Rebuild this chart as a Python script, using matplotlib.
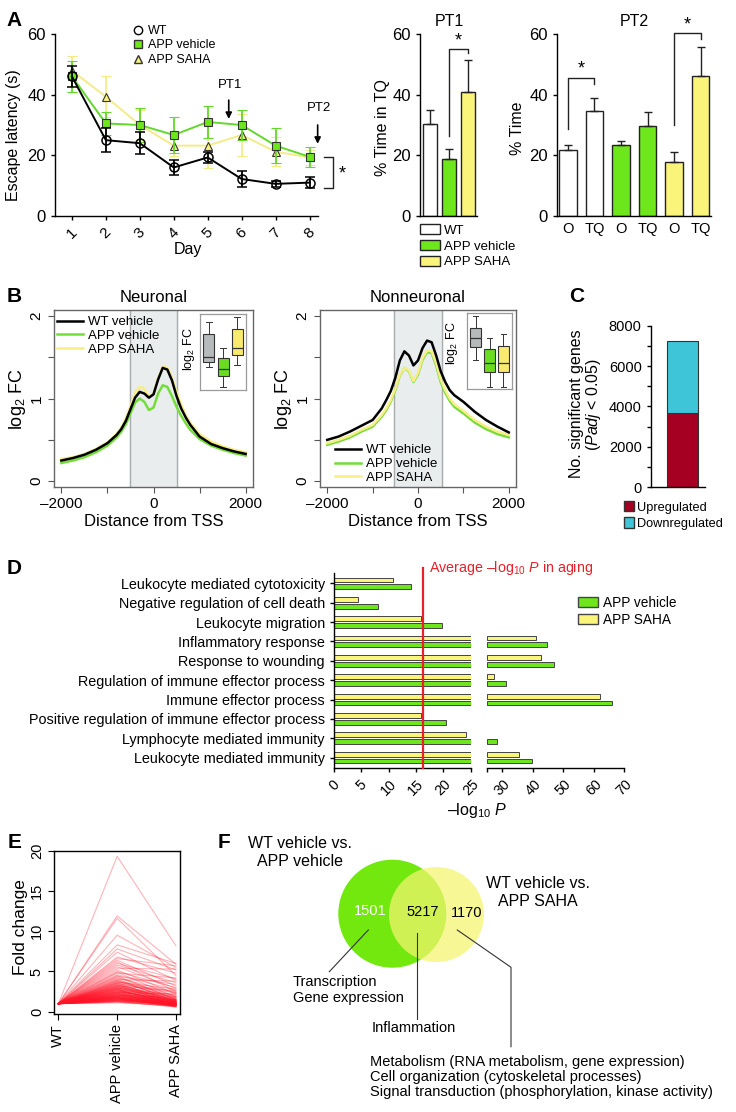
"""Multi-panel figure: water maze (A), promoter profiles (B), DE genes (C),
GO enrichment (D), fold changes (E) and gene-set overlap (F)."""
import matplotlib
matplotlib.use("Agg")
import matplotlib.pyplot as plt
import numpy as np
from matplotlib.lines import Line2D
from matplotlib.patches import Circle, Patch

plt.rcParams["font.family"] = ["Liberation Sans", "DejaVu Sans"]
plt.rcParams["mathtext.fontset"] = "custom"
plt.rcParams["mathtext.rm"] = "Liberation Sans"
plt.rcParams["mathtext.it"] = "Liberation Sans:italic"
plt.rcParams["axes.linewidth"] = 1.0

# ---------------- data ----------------
days = [1, 2, 3, 4, 5, 6, 7, 8]
wt_latency = [46.0, 25.0, 24.0, 16.0, 19.3, 12.2, 10.6, 11.0]
wt_err = [3.5, 4.0, 3.6, 2.6, 1.8, 2.5, 1.0, 1.8]
veh_latency = [46.0, 30.5, 30.0, 26.7, 31.0, 30.0, 23.2, 19.5]
veh_err = [5.0, 3.8, 5.5, 6.0, 5.2, 4.8, 5.8, 3.3]
saha_latency = [47.9, 39.3, 30.0, 23.2, 23.2, 26.7, 21.2, 19.3]
saha_err = [5.0, 6.8, 5.0, 3.5, 7.5, 6.8, 4.7, 2.5]

groups = ["WT", "APP vehicle", "APP SAHA"]
pt1_mean = [30.3, 18.8, 40.8]
pt1_err = [4.7, 3.2, 10.6]
pt2_labels = ["O", "TQ", "O", "TQ", "O", "TQ"]
pt2_mean = [21.8, 34.6, 23.4, 29.8, 17.9, 46.2]
pt2_err = [1.6, 4.4, 1.4, 4.4, 3.3, 9.6]

tss_pos = [-2000, -1750, -1500, -1250, -1000, -800, -700, -600, -500, -400, -300,
           -200, -100, 0, 100, 200, 300, 400, 500, 600, 700, 800, 1000, 1250,
           1500, 1750, 2000]
neu_wt = [0.25, 0.28, 0.32, 0.38, 0.46, 0.56, 0.63, 0.73, 0.87, 1.01, 1.08,
          1.06, 1.01, 1.05, 1.23, 1.37, 1.35, 1.22, 1.03, 0.88, 0.77, 0.68,
          0.54, 0.45, 0.40, 0.36, 0.33]
neu_veh = [0.22, 0.25, 0.29, 0.35, 0.43, 0.53, 0.60, 0.69, 0.82, 0.95, 1.00,
           0.96, 0.86, 0.89, 1.06, 1.16, 1.14, 1.03, 0.90, 0.79, 0.70, 0.62,
           0.51, 0.43, 0.38, 0.34, 0.31]
neu_saha = [0.27, 0.29, 0.33, 0.39, 0.47, 0.57, 0.65, 0.76, 0.91, 1.07, 1.14,
            1.12, 1.02, 1.06, 1.25, 1.39, 1.37, 1.25, 1.08, 0.93, 0.80, 0.70,
            0.57, 0.48, 0.42, 0.38, 0.35]
non_wt = [0.50, 0.54, 0.60, 0.67, 0.74, 0.88, 0.98, 1.09, 1.25, 1.46, 1.57,
          1.52, 1.40, 1.46, 1.61, 1.70, 1.68, 1.52, 1.33, 1.20, 1.10, 1.04,
          0.96, 0.84, 0.74, 0.66, 0.59]
non_veh = [0.44, 0.48, 0.53, 0.60, 0.66, 0.78, 0.86, 0.96, 1.10, 1.28, 1.37,
           1.33, 1.20, 1.29, 1.47, 1.56, 1.55, 1.40, 1.20, 1.07, 0.97, 0.90,
           0.82, 0.71, 0.63, 0.57, 0.53]
non_saha = [0.46, 0.50, 0.55, 0.62, 0.68, 0.80, 0.88, 0.98, 1.12, 1.29, 1.37,
            1.34, 1.21, 1.31, 1.49, 1.58, 1.57, 1.43, 1.23, 1.10, 1.00, 0.93,
            0.85, 0.74, 0.66, 0.60, 0.56]
# inset boxplots: (whislo, q1, med, q3, whishi)
neu_box = [(0.61, 0.74, 0.87, 1.47, 1.79),
           (0.08, 0.37, 0.55, 0.84, 1.10),
           (0.66, 0.92, 1.10, 1.60, 1.92)]
non_box = [(0.76, 1.11, 1.34, 1.61, 1.92),
           (0.06, 0.45, 0.68, 1.05, 1.35),
           (0.06, 0.45, 0.68, 1.13, 1.45)]

n_up = 3700
n_down = 3550

go_terms = ["Leukocyte mediated cytotoxicity",
            "Negative regulation of cell death",
            "Leukocyte migration",
            "Inflammatory response",
            "Response to wounding",
            "Regulation of immune effector process",
            "Immune effector process",
            "Positive regulation of immune effector process",
            "Lymphocyte mediated immunity",
            "Leukocyte mediated immunity"]
veh_logp = np.array([14.1, 8.0, 19.8, 44.8, 47.0, 31.3, 66.1, 20.5, 28.3, 39.8])
saha_logp = np.array([10.7, 4.3, 16.0, 41.1, 42.8, 27.2, 62.0, 16.0, 24.1, 35.4])
aging_avg = 16.2

fc_groups = ["WT", "APP vehicle", "APP SAHA"]
fc_vehicle = [19.3, 11.9, 11.6, 9.5, 8.3, 7.8, 7.4, 6.8, 6.6, 6.4, 6.2, 6.0, 5.8,
              5.6, 5.4, 5.2, 5.0, 4.9, 4.8, 4.6, 4.5, 4.4, 4.2, 4.1, 4.0, 3.9,
              3.8, 3.7, 3.6, 3.5, 3.4, 3.3, 3.2, 3.1, 3.0, 2.9, 2.8, 2.7, 2.6,
              2.5, 2.5, 2.4, 2.3, 2.2, 2.2, 2.1, 2.0, 2.0, 1.9, 1.9, 1.8, 1.8,
              1.7, 1.7, 1.6, 1.6, 1.5, 1.5, 1.4, 1.4, 1.3, 1.3, 1.2, 1.2, 1.1,
              3.6, 3.2, 2.9, 2.7, 2.4, 2.3, 2.1, 1.9, 1.7, 1.6, 1.5, 1.4, 1.3,
              4.3, 3.9, 3.4, 3.0, 2.8, 2.6, 2.4, 2.2, 2.0, 1.8, 1.7, 1.5, 1.4,
              3.7, 3.3, 3.1, 2.9, 2.7, 2.5, 2.3, 2.1, 2.0, 1.9, 1.8, 1.6, 1.5,
              3.5, 3.2, 3.0, 2.8, 2.6, 2.4, 2.2, 2.1, 1.9, 1.8, 1.7, 1.6, 1.3]
fc_saha = [8.2, 5.9, 4.5, 5.5, 6.0, 5.2, 3.9, 4.8, 5.7, 3.2, 2.5, 4.1, 3.6,
           2.9, 5.3, 2.2, 3.0, 1.8, 4.2, 2.7, 1.5, 3.4, 2.4, 1.2, 3.8, 2.0,
           1.6, 2.8, 1.1, 2.3, 1.4, 0.9, 2.6, 1.7, 1.3, 2.1, 0.8, 1.9, 1.2,
           1.5, 0.9, 2.2, 1.1, 1.6, 0.7, 1.3, 1.0, 1.8, 0.8, 1.4, 1.1, 0.6,
           1.5, 0.9, 1.2, 0.7, 1.0, 1.3, 0.8, 1.1, 0.9, 1.2, 0.7, 1.0, 0.8,
           1.9, 1.5, 1.3, 1.0, 1.2, 0.9, 1.1, 0.8, 1.0, 0.7, 0.9, 0.8, 0.6,
           1.6, 1.4, 1.2, 1.1, 0.9, 1.3, 1.0, 0.8, 1.1, 0.9, 0.7, 1.0, 0.8,
           2.4, 1.8, 1.5, 1.2, 1.0, 1.4, 1.1, 0.9, 1.2, 0.8, 1.0, 0.7, 0.9,
           1.3, 1.1, 1.4, 0.9, 1.2, 1.0, 0.8, 1.1, 0.9, 0.7, 1.0, 0.8, 0.6]

venn_counts = [1501, 5217, 1170]

# ---------------- styling ----------------
W, H = 736, 1112
GREEN = "#6ee61c"
GREEN_LINE = "#62d82c"
YELLOW = "#fbf47a"
YELLOW_LINE = "#f3ec86"
EDGE = "#222222"
RED = "#e8202a"

fig = plt.figure(figsize=(W / 100, H / 100), dpi=100)


def px_axes(left, top, right, bottom):
    return fig.add_axes([left / W, 1 - bottom / H, (right - left) / W, (bottom - top) / H])


def ftext(x, y, s, **kw):
    return fig.text(x / W, 1 - y / H, s, **kw)


def open_axes(ax, size=12):
    ax.spines["top"].set_visible(False)
    ax.spines["right"].set_visible(False)
    ax.tick_params(direction="out", length=3, width=1, labelsize=size)


def bracket(ax, x0, x1, y0, ytop, y1):
    ax.plot([x0, x0, x1, x1], [y0, ytop, ytop, y1], color=EDGE, lw=1, clip_on=False)


for letter, (lx, ly) in zip("ABCDEF", [(14, 20), (14, 297), (577, 297),
                                       (14, 568), (15, 843), (224, 843)]):
    ftext(lx, ly, letter, fontsize=15, fontweight="bold", ha="center", va="center")

# ---------------- A: escape latency ----------------
ax = px_axes(55, 34, 318, 216)
open_axes(ax)
ax.errorbar(days, saha_latency, yerr=saha_err, color=YELLOW_LINE, lw=1.4, marker="^",
            ms=6, mfc=YELLOW, mec="#333333", mew=0.8, capsize=3.5, elinewidth=1.3, zorder=2)
ax.errorbar(days, veh_latency, yerr=veh_err, color=GREEN_LINE, lw=1.4, marker="s",
            ms=6, mfc=GREEN, mec="#333333", mew=0.8, capsize=3.5, elinewidth=1.3, zorder=3)
ax.errorbar(days, wt_latency, yerr=wt_err, color="black", lw=1.4, marker="o",
            ms=6.5, mfc="none", mec="black", mew=1.1, capsize=3.5, elinewidth=1.3, zorder=4)
ax.set_xlim(0.5, 8.25)
ax.set_ylim(0, 60)
ax.set_yticks([0, 20, 40, 60])
ax.set_xticks(days)
ax.set_xticklabels([str(d) for d in days], rotation=45, fontsize=11)
ftext(14, 135, "Escape latency (s)", rotation=90, ha="center", va="center", fontsize=11.5)
ftext(188, 250, "Day", ha="center", va="center", fontsize=11.5)
handles = [Line2D([], [], ls="", marker="o", ms=6, mfc="none", mec="black"),
           Line2D([], [], ls="", marker="s", ms=6, mfc=GREEN, mec="#333333"),
           Line2D([], [], ls="", marker="^", ms=6, mfc=YELLOW, mec="#333333")]
ax.legend(handles, ["WT", "APP vehicle", "APP SAHA"], loc="upper left",
          bbox_to_anchor=(133 / W, 1 - 25 / H), bbox_transform=fig.transFigure,
          frameon=False, fontsize=9, handlelength=0.8, handletextpad=0.4,
          labelspacing=0.2, borderpad=0, borderaxespad=0)
for label, xpos, ytext, ystart, yend in [("PT1", 5.62, 43.2, 38.2, 32.0),
                                         ("PT2", 8.24, 35.6, 30.0, 23.8)]:
    ax.annotate("", xy=(xpos, yend), xytext=(xpos, ystart), annotation_clip=False,
                arrowprops=dict(arrowstyle="-|>", color="black", lw=1.2,
                                mutation_scale=9, shrinkA=0, shrinkB=0))
    ax.text(xpos + 0.05, ytext, label, ha="center", va="center", fontsize=9.5)
ax.plot([8.44, 8.68, 8.68, 8.44], [veh_latency[-1], veh_latency[-1],
                                   wt_latency[-1] - 1.8, wt_latency[-1] - 1.8],
        color=EDGE, lw=1, clip_on=False)
ax.text(8.97, 14.0, "*", fontsize=13, ha="center", va="center")

# ---------------- A: probe trial 1 ----------------
bar_colors = ["white", GREEN, YELLOW]
ax = px_axes(420, 34, 477, 216)
open_axes(ax)
ax.bar(range(3), pt1_mean, width=0.7, color=bar_colors, edgecolor=EDGE, lw=1,
       yerr=[[0, 0, 0], pt1_err], error_kw=dict(capsize=3, elinewidth=1, ecolor=EDGE))
ax.set_xlim(-0.53, 2.47)
ax.set_ylim(0, 60)
ax.set_yticks([0, 20, 40, 60])
ax.set_xticks([])
bracket(ax, 1, 2, 26.4, 55.0, 53.6)
ax.text(1.5, 57.6, "*", fontsize=13, ha="center", va="center")
ax.text(1, 64, "PT1", fontsize=11.5, ha="center", va="center")
ftext(383, 128, "% Time in TQ", rotation=90, ha="center", va="center", fontsize=11.5)
ax.legend([Patch(fc=c, ec=EDGE, lw=1) for c in bar_colors], groups, loc="upper left",
          bbox_to_anchor=(420 / W, 1 - 224 / H), bbox_transform=fig.transFigure,
          frameon=False, fontsize=9.5, handlelength=1.5, handleheight=0.8,
          handletextpad=0.35, labelspacing=0.25, borderpad=0, borderaxespad=0)

# ---------------- A: probe trial 2 ----------------
ax = px_axes(556.7, 34, 710.7, 216)
open_axes(ax)
ax.bar(range(6), pt2_mean, width=0.66, color=[c for c in bar_colors for _ in (0, 1)],
       edgecolor=EDGE, lw=1, yerr=[[0] * 6, pt2_err],
       error_kw=dict(capsize=3, elinewidth=1, ecolor=EDGE))
ax.set_xlim(-0.42, 5.38)
ax.set_ylim(0, 60)
ax.set_yticks([0, 20, 40, 60])
ax.set_xticks(range(6))
ax.set_xticklabels(pt2_labels, fontsize=10.5)
ax.tick_params(axis="x", length=0, pad=4)
bracket(ax, 0, 1, 28.7, 45.5, 43.5)
ax.text(0.5, 48.5, "*", fontsize=13, ha="center", va="center")
bracket(ax, 4, 5, 30.0, 60.3, 58.4)
ax.text(4.5, 63.0, "*", fontsize=13, ha="center", va="center")
ax.text(2.5, 64, "PT2", fontsize=11.5, ha="center", va="center")
ftext(517, 128, "% Time", rotation=90, ha="center", va="center", fontsize=11.5)

# ---------------- B: profiles around TSS ----------------
box_colors = ["#b6babb", "#6cdc22", "#f7ea6e"]
profiles = [("Neuronal", (54, 310, 253, 487), neu_wt, neu_veh, neu_saha, neu_box,
             (200, 314, 246, 390), (189, 349), "upper left", (57, 316)),
            ("Nonneuronal", (320, 310, 516, 487), non_wt, non_veh, non_saha, non_box,
             (467, 313, 512, 389), (452, 343), "lower left", (335, 484))]
for title, rect, wt, veh, saha, boxes, inset_rect, inset_lab, loc, leg_xy in profiles:
    ax = px_axes(*rect)
    ax.axvspan(-520, 520, color="#e9edee", zorder=0)
    for xv in (-520, 520):
        ax.axvline(xv, color="#a8acad", lw=1, zorder=1)
    l_veh, = ax.plot(tss_pos, veh, color="#74dd3a", lw=1.8, zorder=2)
    l_saha, = ax.plot(tss_pos, saha, color="#f7ee86", lw=1.8, zorder=3)
    l_wt, = ax.plot(tss_pos, wt, color="black", lw=1.8, zorder=4)
    ax.set_xlim(-2160, 2160)
    ax.set_ylim(-0.07, 2.07)
    ax.set_xticks([-2000, -1000, 0, 1000, 2000])
    ax.set_xticklabels(["\u20132000", "", "0", "", "2000"])
    ax.set_yticks([0, 0.5, 1, 1.5, 2])
    ax.set_yticklabels(["0", "", "1", "", "2"], rotation=90, va="center")
    ax.tick_params(direction="out", length=4, color="#555555", labelsize=11)
    for sp in ax.spines.values():
        sp.set_color("#666666")
    cx = (rect[0] + rect[2]) / 2
    ftext(cx, 298, title, ha="center", va="center", fontsize=12)
    ftext(cx, 522, "Distance from TSS", ha="center", va="center", fontsize=12)
    ftext(rect[0] - 36, 399, "log$_2$ FC", rotation=90, ha="center", va="center", fontsize=13)
    ax.legend([l_wt, l_veh, l_saha], ["WT vehicle", "APP vehicle", "APP SAHA"],
              loc=loc, bbox_to_anchor=(leg_xy[0] / W, 1 - leg_xy[1] / H),
              bbox_transform=fig.transFigure, frameon=False, fontsize=9.5,
              handlelength=2.0, handletextpad=0.35, labelspacing=0.12,
              borderpad=0, borderaxespad=0)

    inset = px_axes(*inset_rect)
    stats = [dict(whislo=b[0], q1=b[1], med=b[2], q3=b[3], whishi=b[4], fliers=[])
             for b in boxes]
    bp = inset.bxp(stats, positions=[1, 2, 3], widths=0.78, patch_artist=True,
                   showfliers=False, capwidths=0.4,
                   boxprops=dict(edgecolor="#333333", lw=0.8),
                   medianprops=dict(color="#333333", lw=0.9),
                   whiskerprops=dict(color="#333333", lw=0.7),
                   capprops=dict(color="#333333", lw=0.7))
    for patch, c in zip(bp["boxes"], box_colors):
        patch.set_facecolor(c)
    inset.set_xlim(0.37, 3.62)
    inset.set_ylim(0, 2)
    inset.set_xticks([])
    inset.set_yticks([])
    inset.set_facecolor("white")
    for sp in inset.spines.values():
        sp.set_color("#9a9a9a")
        sp.set_linewidth(0.9)
    ftext(inset_lab[0], inset_lab[1], "log$_2$ FC", rotation=90, ha="center",
          va="center", fontsize=9)

# ---------------- C: significant genes ----------------
ax = px_axes(650.7, 325.7, 705, 487.3)
open_axes(ax, size=10.5)
ax.bar([0], [n_up], width=0.6, color="#a50021", edgecolor="#333333", lw=0.8)
ax.bar([0], [n_down], bottom=[n_up], width=0.6, color="#3ec5d8", edgecolor="#333333", lw=0.8)
ax.set_xlim(-0.6, 0.43)
ax.set_ylim(0, 8000)
ax.set_yticks(range(0, 8001, 1000))
ax.set_yticklabels([str(v) if v % 2000 == 0 else "" for v in range(0, 8001, 1000)])
ax.set_xticks([])
ftext(586, 404, "No. significant genes\n($\\it{Padj}$ < 0.05)", rotation=90,
      ha="center", va="center", fontsize=11.5, linespacing=1.0)
ax.legend([Patch(fc="#a50021", ec="#333333"), Patch(fc="#3ec5d8", ec="#333333")],
          ["Upregulated", "Downregulated"], loc="upper left",
          bbox_to_anchor=(624 / W, 1 - 501 / H), bbox_transform=fig.transFigure,
          frameon=False, fontsize=9.2, handlelength=0.75, handleheight=0.85,
          handletextpad=0.25, labelspacing=0.3, borderpad=0, borderaxespad=0)

# ---------------- D: GO enrichment with broken axis ----------------
break_at = 25
rows = np.arange(len(go_terms))[::-1]
off, bh = 0.175, 0.25
ax_l = px_axes(334, 573.3, 470.7, 768.3)
ax_r = px_axes(487.3, 573.3, 624, 768.3)
ax_r.patch.set_visible(False)
ax_l.barh(rows + off, np.minimum(saha_logp, break_at), height=bh, color=YELLOW,
          edgecolor="#444444", lw=0.7)
ax_l.barh(rows - off, np.minimum(veh_logp, break_at), height=bh, color=GREEN,
          edgecolor="#444444", lw=0.7)
m_s = saha_logp > break_at
m_v = veh_logp > break_at
ax_r.barh(rows[m_s] + off, saha_logp[m_s] - break_at, left=break_at, height=bh,
          color=YELLOW, edgecolor="#444444", lw=0.7)
ax_r.barh(rows[m_v] - off, veh_logp[m_v] - break_at, left=break_at, height=bh,
          color=GREEN, edgecolor="#444444", lw=0.7)
for a in (ax_l, ax_r):
    open_axes(a, size=10.3)
    a.set_ylim(-0.55, 9.52)
ax_l.set_xlim(0, break_at)
ax_r.set_xlim(break_at, 70)
ax_l.set_yticks(rows)
ax_l.set_yticklabels(go_terms, fontsize=10.4)
ax_r.spines["left"].set_visible(False)
ax_r.set_yticks([])
ax_l.set_xticks(range(0, 26, 5))
ax_l.set_xticklabels([str(v) for v in range(0, 26, 5)], rotation=45)
ax_r.set_xticks([25, 30, 40, 50, 60, 70])
ax_r.set_xticklabels(["", "30", "40", "50", "60", "70"], rotation=45)
ax_l.axvline(aging_avg, ymin=0, ymax=1.027, color=RED, lw=1.6, clip_on=False, zorder=5)
ftext(429, 568, "Average \u2013log$_{10}$ $\\it{P}$ in aging", color=RED,
      fontsize=10.3, va="center", ha="left")
ftext(477, 810, "\u2013log$_{10}$ $\\it{P}$", ha="center", va="center", fontsize=11.5)
ax_r.legend([Patch(fc=GREEN, ec="#444444"), Patch(fc=YELLOW, ec="#444444")],
            ["APP vehicle", "APP SAHA"], loc="upper left",
            bbox_to_anchor=(578 / W, 1 - 596 / H), bbox_transform=fig.transFigure,
            frameon=False, fontsize=9.8, handlelength=1.5, handleheight=0.8,
            handletextpad=0.35, labelspacing=0.2, borderpad=0, borderaxespad=0)

# ---------------- E: fold change lines ----------------
ax = px_axes(54.3, 850.5, 180, 1014)
for v, s in zip(fc_vehicle, fc_saha):
    ax.plot([1, 2, 3], [1.0, v, s], color="#ff1428", alpha=0.32, lw=0.8)
ax.set_xlim(0.93, 3.07)
ax.set_ylim(-0.28, 20.02)
ax.set_xticks([1, 2, 3])
ax.set_xticklabels(fc_groups, rotation=90, fontsize=10.5)
ax.set_yticks([0, 5, 10, 15, 20])
ax.set_yticklabels(["0", "5", "10", "15", "20"], rotation=90, va="center")
ax.tick_params(direction="out", length=4, labelsize=10.5)
ftext(21, 927, "Fold change", rotation=90, ha="center", va="center", fontsize=12.5)

# ---------------- F: Venn ----------------
ax = px_axes(220, 830, 736, 1112)
ax.set_xlim(220, 736)
ax.set_ylim(1112, 830)
ax.axis("off")
ax.add_patch(Circle((392.3, 913.7), 54, color="#72e80f", lw=0, zorder=1))
ax.add_patch(Circle((436.5, 914.5), 47.5, color="#f5f56e", alpha=0.72, lw=0, zorder=2))
for (tx, ty, col), count in zip([(370, 911, "white"), (422.7, 912, "black"),
                                 (466.7, 913, "black")], venn_counts):
    ax.text(tx, ty, str(count), color=col, fontsize=10.5, ha="center", va="center", zorder=3)
ax.text(300, 852, "WT vehicle vs.\nAPP vehicle", ha="center", va="center",
        fontsize=11.5, linespacing=1.25)
ax.text(538, 893, "WT vehicle vs.\nAPP SAHA", ha="center", va="center",
        fontsize=11.5, linespacing=1.25)
ax.plot([368.3, 329.3], [930, 971.7], color="#333333", lw=0.8)
ax.plot([417.3, 417.3], [933.3, 1019.3], color="#333333", lw=0.8)
ax.plot([457.3, 511, 511], [930, 967.3, 1046.7], color="#333333", lw=0.8)
ax.text(292.7, 990, "Transcription\nGene expression", ha="left", va="center",
        fontsize=10.5, linespacing=1.15)
ax.text(414, 1027.7, "Inflammation", ha="center", va="center", fontsize=10.5)
ax.text(370, 1076.7, "Metabolism (RNA metabolism, gene expression)\n"
        "Cell organization (cytoskeletal processes)\n"
        "Signal transduction (phosphorylation, kinase activity)",
        ha="left", va="center", fontsize=10.5, linespacing=1.1)

fig.savefig("out.png", dpi=100)
